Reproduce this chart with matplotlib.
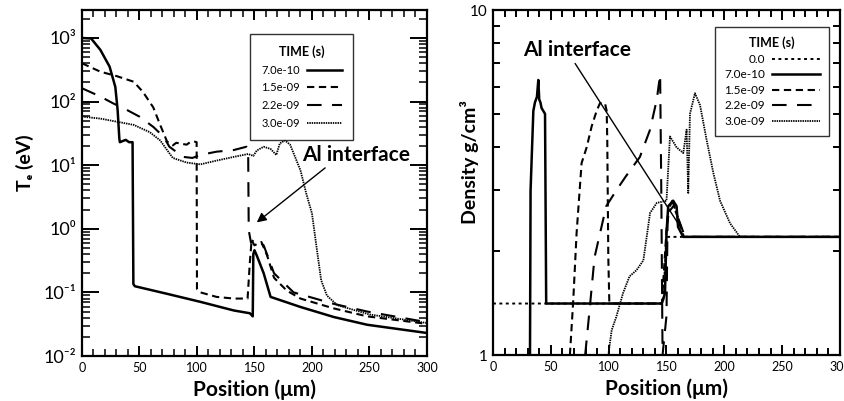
import matplotlib
matplotlib.use("Agg")
import matplotlib.pyplot as plt
from matplotlib.collections import LineCollection
from matplotlib.ticker import MultipleLocator, NullFormatter, FixedLocator, FixedFormatter

plt.rcParams['font.family'] = ['Lato', 'DejaVu Sans']

# ---- electron temperature (left panel) ----
te_labels = ["7.0e-10", "1.5e-09", "2.2e-09", "3.0e-09"]
te_decades = [1e-2, 1e-1, 1, 10, 100, 1000]
te_decade_labels = ["10⁻²", "10⁻¹", "10⁰", "10¹", "10²", "10³"]

te_x_1 = [0, 8, 16, 24, 29, 31, 32.5, 33, 38, 41, 44, 44.7, 46, 74, 103, 132, 146, 148.5,
          149, 150, 152, 158, 164, 190, 219, 248, 300]
te_y_1 = [1000, 980, 650, 355, 170, 74, 26, 23, 25, 23, 23, 0.135, 0.125, 0.095, 0.071, 0.052,
          0.047, 0.042, 0.40, 0.46, 0.38, 0.20, 0.085, 0.059, 0.041, 0.031, 0.023]

te_x_2 = [0, 16, 30, 45, 53, 62, 68, 74, 79, 82, 85, 91, 94, 98, 99.7, 100, 103, 117, 132, 144,
          146, 147.5, 150, 156, 161, 167, 178, 190, 219, 248, 300]
te_y_2 = [400, 295, 252, 205, 142, 81, 43, 23.5, 20.5, 22.5, 22, 21, 23, 23.4, 23, 0.114, 0.10,
          0.085, 0.08, 0.08, 0.3, 0.66, 0.55, 0.62, 0.38, 0.17, 0.107, 0.08, 0.056, 0.042, 0.032]

te_x_3 = [0, 16, 27, 39, 50, 62, 71, 76, 88, 96, 103, 117, 132, 143, 144.5, 145, 147, 150, 158,
          167, 184, 219, 248, 300]
te_y_3 = [162, 120, 94, 74, 58, 40, 28, 19.5, 13.5, 13, 14.5, 16.3, 17.3, 19.5, 18, 0.95, 0.6,
          0.7, 0.55, 0.2, 0.1, 0.066, 0.05, 0.034]

te_x_4 = [0, 16, 45, 59, 68, 74, 79, 91, 103, 117, 132, 144.5, 149, 152, 158, 164, 169, 172,
          176.5, 181, 190, 195, 200, 204, 208, 213, 222, 250, 300]
te_y_4 = [58, 54, 43, 33, 24.5, 17.3, 13, 11, 10.3, 11.8, 13.5, 15, 14, 17, 19.5, 18, 14.5, 22,
          24.5, 21, 8.3, 3.6, 1.74, 0.51, 0.155, 0.089, 0.063, 0.045, 0.033]

# ---- density (right panel) ----
rho_labels = ["0.0", "7.0e-10", "1.5e-09", "2.2e-09", "3.0e-09"]

rho_x_0 = [0, 147, 150, 300]
rho_y_0 = [1.41, 1.41, 2.2, 2.2]

rho_x_1 = [32, 32.5, 34.9, 36.3, 38, 39.2, 40, 41, 42, 43.5, 45, 46, 146, 148.7, 150, 151.5,
           155.8, 158.7, 160, 164.5, 300]
rho_y_1 = [1.0, 3.0, 5.1, 5.4, 5.6, 6.27, 5.5, 5.4, 5.2, 5.1, 5.0, 1.41, 1.41, 1.51, 2.26, 2.7,
           2.8, 2.7, 2.35, 2.2, 2.2]

rho_x_2 = [66.5, 69.4, 72.3, 76.6, 81, 85.3, 89.6, 92.5, 96.8, 98.3, 98.8, 99.7, 100.6, 146,
           150, 152, 156, 160, 165, 300]
rho_y_2 = [1.0, 1.44, 2.26, 3.6, 4.0, 4.6, 5.1, 5.37, 5.37, 5.1, 4.2, 1.92, 1.41, 1.41, 2.3,
           2.6, 2.7, 2.5, 2.2, 2.2]

rho_x_3 = [79.7, 83.5, 87.8, 97.9, 106.6, 115, 127, 135.8, 141.6, 144.5, 145.5, 146.6, 150, 151,
           155, 160, 166, 300]
rho_y_3 = [1.0, 1.35, 1.92, 2.7, 3.0, 3.3, 3.75, 4.5, 5.5, 6.5, 3.0, 1.0, 1.3, 2.6, 2.8, 2.5,
           2.2, 2.2]

rho_x_4 = [99.7, 102.6, 106.6, 112.4, 118, 124, 130, 135.8, 141.6, 150, 153, 158.7, 164.5,
           167.4, 168.8, 170.3, 174.6, 179, 184.7, 190.5, 196.3, 204.9, 213.5, 300]
rho_y_4 = [1.0, 1.18, 1.29, 1.51, 1.69, 1.76, 1.88, 2.58, 2.76, 2.8, 4.3, 4.0, 3.85, 4.5, 2.95,
           5.0, 5.74, 5.3, 4.2, 3.37, 2.8, 2.41, 2.2, 2.2]

styles = {
    "0.0": dict(linestyle=(0, (1.5, 1.8)), linewidth=1.4),
    "7.0e-10": dict(linestyle='-', linewidth=1.8),
    "1.5e-09": dict(linestyle=(0, (3.5, 2.2)), linewidth=1.5),
    "2.2e-09": dict(linestyle=(0, (7, 5)), linewidth=1.5),
    "3.0e-09": dict(linestyle=(0, (0.8, 0.5)), linewidth=1.3),
}


def inward_ticks(ax, xlocs, xlen, ylocs, ylen, width):
    # tick marks on all four sides, placed from the axis locators
    lo, hi = ax.get_xlim()
    xs = [v for v in xlocs if lo - 1e-9 <= v <= hi + 1e-9]
    lo, hi = ax.get_ylim()
    ys = [v for v in ylocs if lo * 0.999 <= v <= hi * 1.001]
    tx = ax.get_xaxis_transform()
    ty = ax.get_yaxis_transform()
    if xlen > 0:
        segs = [[(v, 0), (v, xlen)] for v in xs] + [[(v, 1 - xlen), (v, 1)] for v in xs]
        ax.add_collection(LineCollection(segs, transform=tx, colors='black', linewidths=width,
                                         clip_on=False, zorder=3), autolim=False)
    if ylen > 0:
        segs = [[(0, v), (ylen, v)] for v in ys] + [[(1 - ylen, v), (1, v)] for v in ys]
        ax.add_collection(LineCollection(segs, transform=ty, colors='black', linewidths=width,
                                         clip_on=False, zorder=3), autolim=False)


fig = plt.figure(figsize=(8.45, 4.01), dpi=100)
ax1 = fig.add_axes([0.0970, 0.1122, 0.4083, 0.8628])
ax2 = fig.add_axes([0.5834, 0.1147, 0.4107, 0.8603])

for xs, ys, lab in zip([te_x_1, te_x_2, te_x_3, te_x_4], [te_y_1, te_y_2, te_y_3, te_y_4], te_labels):
    ax1.plot(xs, ys, color='black', label=lab, **styles[lab])

for xs, ys, lab in zip([rho_x_0, rho_x_1, rho_x_2, rho_x_3, rho_x_4],
                       [rho_y_0, rho_y_1, rho_y_2, rho_y_3, rho_y_4], rho_labels):
    ax2.plot(xs, ys, color='black', label=lab, **styles[lab])

# left axes
ax1.set_yscale('log')
ax1.set_xlim(0, 300)
ax1.set_ylim(1e-2, 2750)
ax1.xaxis.set_major_locator(MultipleLocator(50))
ax1.xaxis.set_minor_locator(MultipleLocator(10))
ax1.yaxis.set_major_locator(FixedLocator(te_decades))
ax1.yaxis.set_major_formatter(FixedFormatter(te_decade_labels))
minor_te = [m * d for d in te_decades for m in range(2, 10)]
ax1.yaxis.set_minor_locator(FixedLocator([v for v in minor_te if v < 2750]))
ax1.yaxis.set_minor_formatter(NullFormatter())
ax1.tick_params(axis='both', which='both', length=0)
ax1.tick_params(axis='y', which='major', labelsize=13, pad=4)
ax1.tick_params(axis='x', which='major', labelsize=9, pad=4)
ax1.set_xlabel('Position (μm)', fontsize=15, fontweight='bold', labelpad=4)
ax1.set_ylabel('Tₑ (eV)', fontsize=14, fontweight='bold')
ax1.yaxis.set_label_coords(-0.14, 0.56)

inward_ticks(ax1, ax1.xaxis.get_majorticklocs(), 0.029, ax1.yaxis.get_majorticklocs(), 0.049, 1.4)
inward_ticks(ax1, ax1.xaxis.get_minorticklocs(), 0.020, ax1.yaxis.get_minorticklocs(), 0.023, 1.1)

leg1 = ax1.legend(loc='upper left', bbox_to_anchor=(0.487, 0.93), title='TIME (s)',
                  markerfirst=False, fontsize=8, title_fontproperties={'weight': 'bold', 'size': 9},
                  handlelength=3.2, labelspacing=0.6, frameon=True, fancybox=False,
                  edgecolor='black', borderpad=1.0, handletextpad=0.6, borderaxespad=0)
leg1.get_frame().set_linewidth(1.0)
leg1.set_zorder(5)

ax1.annotate('Al interface', xy=(152, 1.26), xytext=(191, 14.4), fontsize=15, fontweight='bold',
             va='center', ha='left',
             arrowprops=dict(arrowstyle='-|>', color='black', lw=1.0, mutation_scale=14,
                             shrinkA=0, shrinkB=0, relpos=(0.25, 0.0)))

# right axes
ax2.set_yscale('log')
ax2.set_xlim(0, 300)
ax2.set_ylim(1, 10)
ax2.xaxis.set_major_locator(MultipleLocator(50))
ax2.xaxis.set_minor_locator(MultipleLocator(10))
ax2.yaxis.set_major_locator(FixedLocator([1, 10]))
ax2.yaxis.set_major_formatter(FixedFormatter(['1', '10']))
ax2.yaxis.set_minor_locator(FixedLocator(list(range(2, 10))))
ax2.yaxis.set_minor_formatter(NullFormatter())
ax2.tick_params(axis='both', which='both', length=0)
ax2.tick_params(axis='y', which='major', labelsize=11, pad=4)
ax2.tick_params(axis='x', which='major', labelsize=9, pad=4)
ax2.set_xlabel('Position (μm)', fontsize=15, fontweight='bold', labelpad=4)
ax2.set_ylabel('Density g/cm³', fontsize=14, fontweight='bold')
ax2.yaxis.set_label_coords(-0.04, 0.56)

inward_ticks(ax2, ax2.xaxis.get_majorticklocs(), 0.029, [], 0, 1.4)
inward_ticks(ax2, ax2.xaxis.get_minorticklocs(), 0.020, ax2.yaxis.get_minorticklocs(), 0.021, 1.4)

leg2 = ax2.legend(loc='upper left', bbox_to_anchor=(0.640, 0.95), title='TIME (s)',
                  markerfirst=False, fontsize=8.5, title_fontproperties={'weight': 'bold', 'size': 9},
                  handlelength=4.0, labelspacing=0.38, frameon=True, fancybox=False,
                  edgecolor='black', borderpad=0.8, handletextpad=0.6, borderaxespad=0)
leg2.get_frame().set_linewidth(1.0)
leg2.set_zorder(5)

ax2.text(26, 7.66, 'Al interface', fontsize=15, fontweight='bold', va='center', ha='left')
ax2.annotate('', xy=(162, 2.35), xytext=(71, 7.0),
             arrowprops=dict(arrowstyle='-', color='black', lw=1.0, shrinkA=0, shrinkB=0))

for ax in (ax1, ax2):
    for s in ax.spines.values():
        s.set_linewidth(1.6)

fig.savefig('out.png', dpi=100)
